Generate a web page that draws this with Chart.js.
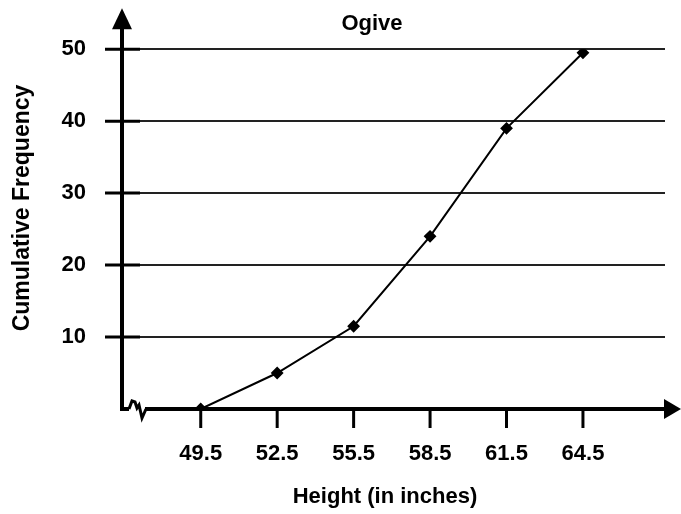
<!DOCTYPE html>
<html>
<head>
<meta charset="utf-8">
<script src="https://cdn.jsdelivr.net/npm/chart.js@4/dist/chart.umd.min.js"></script>
<style>
    body { margin: 0; background: #fff; }
    canvas { display: block; }
</style>
</head>
<body>
<canvas id="ogiva" width="681" height="514"></canvas>
<script>
const alturas = [49.5, 52.5, 55.5, 58.5, 61.5, 64.5];
const frecuenciaAcumulada = [0, 5, 11.5, 24, 39, 49.5];
const marcasY = [10, 20, 30, 40, 50];

const titulo = "Ogive";
const tituloX = "Height (in inches)";
const tituloY = "Cumulative Frequency";

const fuente = "'Liberation Sans', Arial, sans-serif";

// ejes con flechas, marcas gruesas y el corte en zigzag
const ejes = {
    id: "ejes",
    beforeDatasetsDraw(chart) {
        const { ctx, chartArea } = chart;
        const { left, right, top, bottom } = chartArea;
        const x = chart.scales.x;
        const y = chart.scales.y;

        ctx.save();
        ctx.strokeStyle = "#000";
        ctx.fillStyle = "#000";
        ctx.lineCap = "butt";

        // eje Y
        ctx.lineWidth = 4;
        ctx.beginPath();
        ctx.moveTo(left, bottom + 2);
        ctx.lineTo(left, top - 22);
        ctx.stroke();

        ctx.beginPath();
        ctx.moveTo(left, top - 41);
        ctx.lineTo(left + 10, top - 20);
        ctx.lineTo(left - 10, top - 20);
        ctx.closePath();
        ctx.fill();

        ctx.lineWidth = 3;
        marcasY.forEach((valor) => {
            const py = y.getPixelForValue(valor);
            ctx.beginPath();
            ctx.moveTo(left - 17, py);
            ctx.lineTo(left + 18, py);
            ctx.stroke();
        });

        // eje X con zigzag
        ctx.lineWidth = 4;
        ctx.lineJoin = "miter";
        ctx.beginPath();
        ctx.moveTo(left - 2, bottom);
        ctx.lineTo(left + 7, bottom);
        ctx.stroke();

        ctx.lineWidth = 3;
        ctx.beginPath();
        ctx.moveTo(left + 7, bottom);
        ctx.lineTo(left + 10, bottom - 8);
        ctx.lineTo(left + 13, bottom - 7);
        ctx.lineTo(left + 15, bottom - 1);
        ctx.lineTo(left + 17, bottom - 4);
        ctx.lineTo(left + 20, bottom + 9);
        ctx.lineTo(left + 24, bottom);
        ctx.stroke();

        ctx.lineWidth = 4;
        ctx.beginPath();
        ctx.moveTo(left + 23, bottom);
        ctx.lineTo(right + 2, bottom);
        ctx.stroke();

        ctx.beginPath();
        ctx.moveTo(right + 16, bottom);
        ctx.lineTo(right - 1, bottom - 10);
        ctx.lineTo(right - 1, bottom + 10);
        ctx.closePath();
        ctx.fill();

        ctx.lineWidth = 3;
        alturas.forEach((valor) => {
            const px = x.getPixelForValue(valor);
            ctx.beginPath();
            ctx.moveTo(px, bottom);
            ctx.lineTo(px, bottom + 19);
            ctx.stroke();
        });

        // textos
        ctx.font = "bold 22px " + fuente;
        ctx.textAlign = "center";
        ctx.textBaseline = "alphabetic";
        ctx.fillText(titulo, 372, 30);
        ctx.fillText(tituloX, 385, 503);

        ctx.font = "bold 23px " + fuente;
        ctx.translate(29, 208);
        ctx.rotate(-Math.PI / 2);
        ctx.fillText(tituloY, 0, 0);

        ctx.restore();
    }
};

const ctx = document.getElementById("ogiva");
const grafica = new Chart(ctx, {
    type: "line",
    data: {
        datasets: [
            {
                label: "Ogive",
                data: alturas.map((altura, i) => ({ x: altura, y: frecuenciaAcumulada[i] })),
                borderColor: "#000",
                borderWidth: 2,
                backgroundColor: "#000",
                pointStyle: "rectRot",
                pointRadius: 5,
                pointBackgroundColor: "#000",
                pointBorderColor: "#000",
                tension: 0
            }
        ]
    },
    options: {
        responsive: false,
        animation: false,
        layout: {
            padding: { top: 49, right: 16, bottom: 0, left: 0 }
        },
        plugins: {
            legend: { display: false },
            tooltip: { enabled: false }
        },
        scales: {
            x: {
                type: "linear",
                min: 46.41,
                max: 67.72,
                afterBuildTicks: (escala) => {
                    escala.ticks = alturas.map((valor) => ({ value: valor }));
                },
                afterFit: (escala) => {
                    escala.height = 105;
                },
                border: { display: false },
                grid: { display: false, drawTicks: false },
                ticks: {
                    padding: 32,
                    color: "#000",
                    font: { family: fuente, size: 22, weight: "bold" },
                    callback: (valor) => valor.toFixed(1),
                    maxRotation: 0
                }
            },
            y: {
                min: 0,
                max: 50,
                afterBuildTicks: (escala) => {
                    escala.ticks = marcasY.map((valor) => ({ value: valor }));
                },
                afterFit: (escala) => {
                    escala.width = 122;
                },
                border: { display: false },
                grid: {
                    color: "#222",
                    lineWidth: 2,
                    drawTicks: false
                },
                ticks: {
                    padding: 36,
                    color: "#000",
                    font: { family: fuente, size: 22, weight: "bold" }
                }
            }
        }
    },
    plugins: [ejes]
});
</script>
</body>
</html>
